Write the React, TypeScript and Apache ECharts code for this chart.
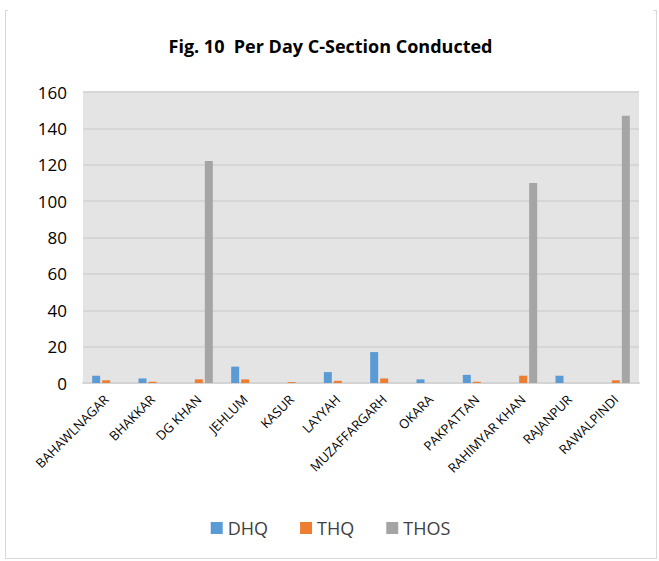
import React, { useEffect, useRef } from "react";
import * as echarts from "echarts";

const categories = ["BAHAWLNAGAR", "BHAKKAR", "DG KHAN", "JEHLUM", "KASUR", "LAYYAH", "MUZAFFARGARH", "OKARA", "PAKPATTAN", "RAHIMYAR KHAN", "RAJANPUR", "RAWALPINDI"];
const dhq = [4, 2.5, 0, 9, 0, 6, 17, 2, 4.5, 0, 4, 0];
const thq = [1.5, 0.7, 2, 2, 0.5, 1.2, 2.5, 0, 0.7, 4, 0, 1.5];
const thos = [0, 0, 122, 0, 0, 0, 0, 0, 0, 110, 0, 147];

export default function App() {
  const ref = useRef<HTMLDivElement>(null);
  useEffect(() => {
    const chart = echarts.init(ref.current!, null, { renderer: "svg" });
    const font = "'Open Sans', 'Noto Sans', sans-serif";
    chart.setOption({
      animation: false,
      backgroundColor: "#ffffff",
      title: {
        text: "Fig. 10  Per Day C-Section Conducted",
        left: "center",
        top: 24,
        textStyle: { fontSize: 18, fontWeight: "bold", color: "#000", fontFamily: font },
      },
      legend: {
        bottom: 16,
        left: "center",
        itemWidth: 12,
        itemHeight: 12,
        itemGap: 32,
        icon: "rect",
        textStyle: { fontSize: 18, color: "#404040", fontFamily: font },
        data: ["DHQ", "THQ", "THOS"],
      },
      grid: {
        left: 75,
        right: 14,
        top: 84,
        bottom: 175,
        show: true,
        backgroundColor: "#e4e4e4",
        borderWidth: 0,
      },
      xAxis: {
        type: "category",
        data: categories,
        axisLine: { show: true, lineStyle: { color: "#d4d4d4", width: 2 } },
        axisTick: { show: false },
        axisLabel: { rotate: 45, fontSize: 13, color: "#000", fontFamily: font, interval: 0, margin: 14 },
      },
      yAxis: {
        type: "value",
        min: 0,
        max: 160,
        interval: 20,
        axisLine: { show: false },
        axisTick: { show: false },
        splitLine: { lineStyle: { color: "#d6d6d6", width: 2 } },
        axisLabel: { fontSize: 17, color: "#000", fontFamily: font, margin: 16 },
      },
      series: [
        { name: "DHQ", type: "bar", data: dhq, itemStyle: { color: "#5b9bd5" }, barWidth: 8, barGap: "25%" },
        { name: "THQ", type: "bar", data: thq, itemStyle: { color: "#ed7d31" }, barWidth: 8, barGap: "25%" },
        { name: "THOS", type: "bar", data: thos, itemStyle: { color: "#a5a5a5" }, barWidth: 8, barGap: "25%" },
      ],
    });
    return () => chart.dispose();
  }, []);
  return (
    <div style={{ position: "absolute", left: 0, top: 0, width: 659, height: 561, background: "#fff" }}>
      <div style={{ position: "absolute", left: 5, top: 10, width: 652, height: 549, border: "1px solid #d9d9d9", boxSizing: "border-box" }} />
      <div ref={ref} style={{ position: "absolute", left: 8, top: 8, width: 645, height: 550 }} />
    </div>
  );
}
